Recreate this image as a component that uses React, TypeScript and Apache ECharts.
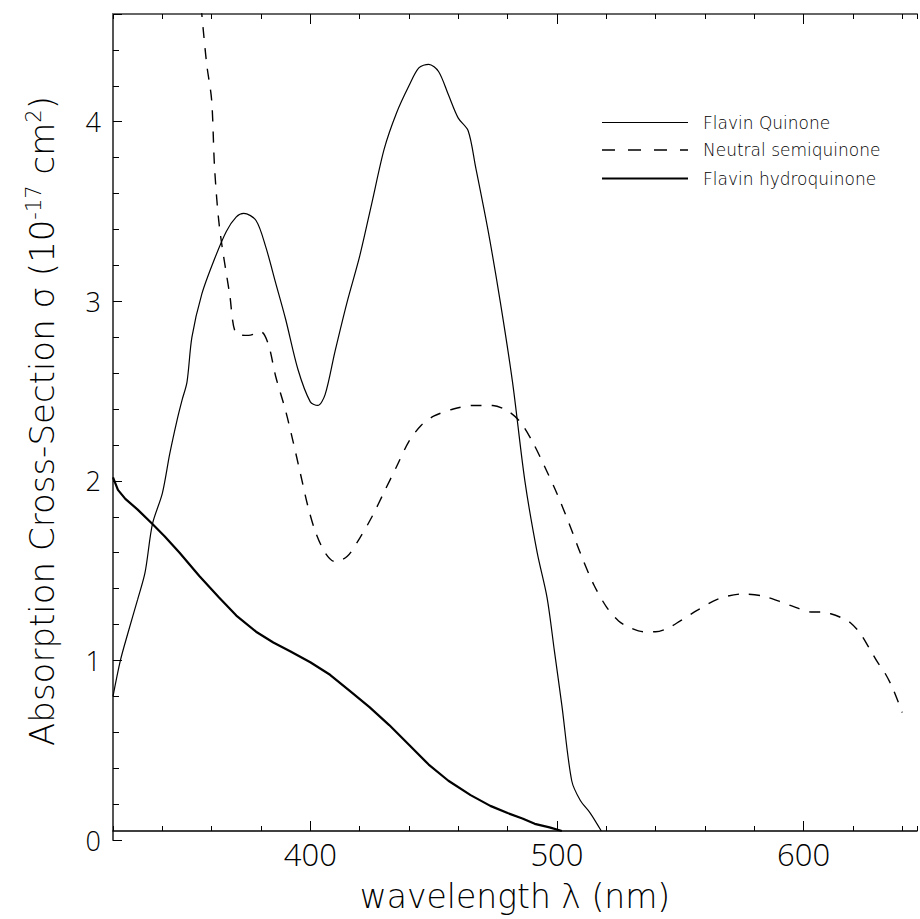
import React, { useEffect, useRef } from 'react';
import * as echarts from 'echarts';

// Flavin Quinone (solid thin)
const quinoneWl = [320, 323, 326, 330, 333, 336, 340, 343, 346, 348, 350, 352, 356, 361, 366, 370, 373, 378, 382, 386, 390, 395, 400, 403, 406, 410, 415, 420, 425, 430, 435, 440, 444, 448, 452, 456, 460, 464, 467, 472, 477, 482, 487, 492, 496, 499, 502, 506, 509.5, 513.5, 518];
const quinoneVal = [0.80, 1.00, 1.15, 1.34, 1.49, 1.76, 1.93, 2.15, 2.34, 2.45, 2.55, 2.80, 3.04, 3.23, 3.39, 3.47, 3.49, 3.45, 3.30, 3.10, 2.90, 2.62, 2.44, 2.42, 2.48, 2.72, 3.00, 3.25, 3.55, 3.85, 4.05, 4.20, 4.30, 4.32, 4.28, 4.15, 4.02, 3.95, 3.75, 3.40, 3.00, 2.55, 2.00, 1.60, 1.35, 1.05, 0.75, 0.33, 0.22, 0.15, 0.05];

// Neutral semiquinone (dashed)
const semiWl = [355, 356, 358, 360, 361.2, 363.2, 367.3, 370, 375, 380, 383, 386, 390, 393, 396, 399, 402, 406, 410, 415, 420, 425, 430, 435, 440, 445, 450, 458, 466, 474, 480, 485, 490, 495, 500, 505, 510, 515, 520, 525, 530, 535, 540, 545, 550, 557, 565, 575, 583, 590, 596, 603, 607, 611, 615, 619, 623, 627, 630, 633, 636, 640];
const semiVal = [4.76, 4.60, 4.32, 4.12, 3.74, 3.41, 3.04, 2.82, 2.81, 2.83, 2.76, 2.58, 2.39, 2.22, 2.04, 1.86, 1.72, 1.60, 1.55, 1.58, 1.68, 1.80, 1.94, 2.08, 2.22, 2.31, 2.36, 2.40, 2.42, 2.42, 2.39, 2.33, 2.22, 2.08, 1.93, 1.76, 1.58, 1.42, 1.30, 1.22, 1.18, 1.16, 1.16, 1.18, 1.22, 1.28, 1.34, 1.37, 1.36, 1.33, 1.30, 1.27, 1.27, 1.26, 1.24, 1.21, 1.15, 1.06, 0.99, 0.93, 0.85, 0.71];

// Flavin hydroquinone (solid thick)
const hydroWl = [320, 322, 325, 330, 336, 341, 347, 355, 363, 370, 378, 385, 392, 400, 408, 416, 424, 432, 440, 448, 456, 465, 473, 480, 486, 491, 497, 502];
const hydroVal = [2.02, 1.95, 1.90, 1.84, 1.76, 1.69, 1.60, 1.47, 1.35, 1.25, 1.16, 1.10, 1.05, 0.99, 0.92, 0.83, 0.74, 0.64, 0.53, 0.42, 0.33, 0.25, 0.19, 0.15, 0.12, 0.09, 0.07, 0.05];

const xMajorTicks = [400, 500, 600];
const seriesNames = ['Flavin Quinone', 'Neutral semiquinone', 'Flavin hydroquinone'];

const FONT = "'Open Sans', 'Liberation Sans', sans-serif";
const TFONT = "'DejaVu Sans', 'Open Sans', sans-serif";

export default function App() {
  const ref = useRef<HTMLDivElement>(null);
  useEffect(() => {
    const chart = echarts.init(ref.current as HTMLDivElement, null, { renderer: 'svg' });
    const zip = (w: number[], v: number[]) => w.map((x, i) => [x, v[i]]);
    const xBase = { type: 'value', min: 320, max: 646, splitLine: { show: false } };
    const yBase = { type: 'value', min: 0, max: 4.6, position: 'left', splitLine: { show: false } };
    const tickStyle = { color: '#000', width: 1 };
    const txt = { fontFamily: FONT, fontWeight: 300, color: '#000' };
    const ttxt = { fontFamily: TFONT, fontWeight: 200, color: '#000' };
    chart.setOption({
      animation: false,
      grid: { left: 113, right: 0, top: 14, bottom: 79, containLabel: false },
      xAxis: [
        {
          ...xBase, position: 'bottom', offset: -9, interval: 20,
          axisLine: { show: true, lineStyle: { color: '#000', width: 1.5 } },
          axisTick: { inside: true, length: 5, lineStyle: tickStyle },
          axisLabel: { ...txt, formatter: (v: number) => (xMajorTicks.includes(v) ? String(v) : ''), margin: 7, fontSize: 31 },
          name: 'wavelength λ (nm)', nameLocation: 'middle', nameGap: 49,
          nameTextStyle: { ...ttxt, fontSize: 33 },
        },
        {
          ...xBase, position: 'bottom', offset: -9,
          axisLine: { show: false },
          axisTick: { inside: true, length: 10, customValues: xMajorTicks, lineStyle: tickStyle },
          axisLabel: { show: false },
        },
        {
          ...xBase, position: 'top', interval: 20,
          axisLine: { show: true, lineStyle: { color: '#666', width: 2 } },
          axisTick: { inside: true, length: 5, lineStyle: tickStyle },
          axisLabel: { show: false },
        },
        {
          ...xBase, position: 'top',
          axisLine: { show: false },
          axisTick: { inside: true, length: 10, customValues: xMajorTicks, lineStyle: tickStyle },
          axisLabel: { show: false },
        },
      ],
      yAxis: [
        {
          ...yBase, interval: 0.2,
          axisLine: { show: true, lineStyle: { color: '#555', width: 2 } },
          axisTick: { inside: true, length: 6, lineStyle: tickStyle },
          axisLabel: {
            ...txt, fontSize: 27, margin: 12,
            formatter: (v: number) => (Math.abs(v - Math.round(v)) < 1e-6 ? String(Math.round(v)) : ''),
          },
          name: '{a|Absorption Cross-Section σ (10}{s|-17}{a| cm}{s|2}{a|)}',
          nameLocation: 'middle', nameGap: 54,
          nameTextStyle: {
            ...ttxt,
            padding: [0, 0, 0, 12],
            rich: {
              a: { ...ttxt, fontSize: 34, lineHeight: 42, verticalAlign: 'bottom' },
              s: { ...ttxt, fontSize: 21, lineHeight: 42, verticalAlign: 'bottom', padding: [0, 0, 15, 0] },
            },
          },
        },
        {
          ...yBase, interval: 1,
          axisLine: { show: false },
          axisTick: { inside: true, length: 9, lineStyle: tickStyle },
          axisLabel: { show: false },
        },
      ],
      graphic: [
        { type: 'line', shape: { x1: 602, y1: 122.5, x2: 688, y2: 122.5 }, style: { stroke: '#000', lineWidth: 1.2 } },
        { type: 'line', shape: { x1: 602, y1: 150, x2: 688, y2: 150 }, style: { stroke: '#000', lineWidth: 1.4, lineDash: [13, 13] } },
        { type: 'line', shape: { x1: 602, y1: 178.5, x2: 688, y2: 178.5 }, style: { stroke: '#000', lineWidth: 2.2 } },
        { type: 'text', x: 703, y: 122.5, style: { text: seriesNames[0], fontFamily: TFONT, fontWeight: 200, fontSize: 17, fill: '#000', verticalAlign: 'middle' } },
        { type: 'text', x: 703, y: 150, style: { text: seriesNames[1], fontFamily: TFONT, fontWeight: 200, fontSize: 17, fill: '#000', verticalAlign: 'middle' } },
        { type: 'text', x: 703, y: 178.5, style: { text: seriesNames[2], fontFamily: TFONT, fontWeight: 200, fontSize: 17, fill: '#000', verticalAlign: 'middle' } },
      ],
      series: [
        {
          type: 'line', name: seriesNames[0], data: zip(quinoneWl, quinoneVal), symbol: 'none', smooth: 0.3,
          lineStyle: { color: '#000', width: 1.2 }, xAxisIndex: 0, yAxisIndex: 0,
        },
        {
          type: 'line', name: seriesNames[1], data: zip(semiWl, semiVal), symbol: 'none', smooth: 0.3,
          lineStyle: { color: '#000', width: 1.4, type: [11, 10] }, xAxisIndex: 0, yAxisIndex: 0,
        },
        {
          type: 'line', name: seriesNames[2], data: zip(hydroWl, hydroVal), symbol: 'none', smooth: false,
          lineStyle: { color: '#000', width: 2.2 }, xAxisIndex: 0, yAxisIndex: 0,
        },
      ],
    });
    return () => chart.dispose();
  }, []);
  return <div ref={ref} style={{ position: 'absolute', left: 0, top: 0, width: 920, height: 919, background: '#fff' }} />;
}
